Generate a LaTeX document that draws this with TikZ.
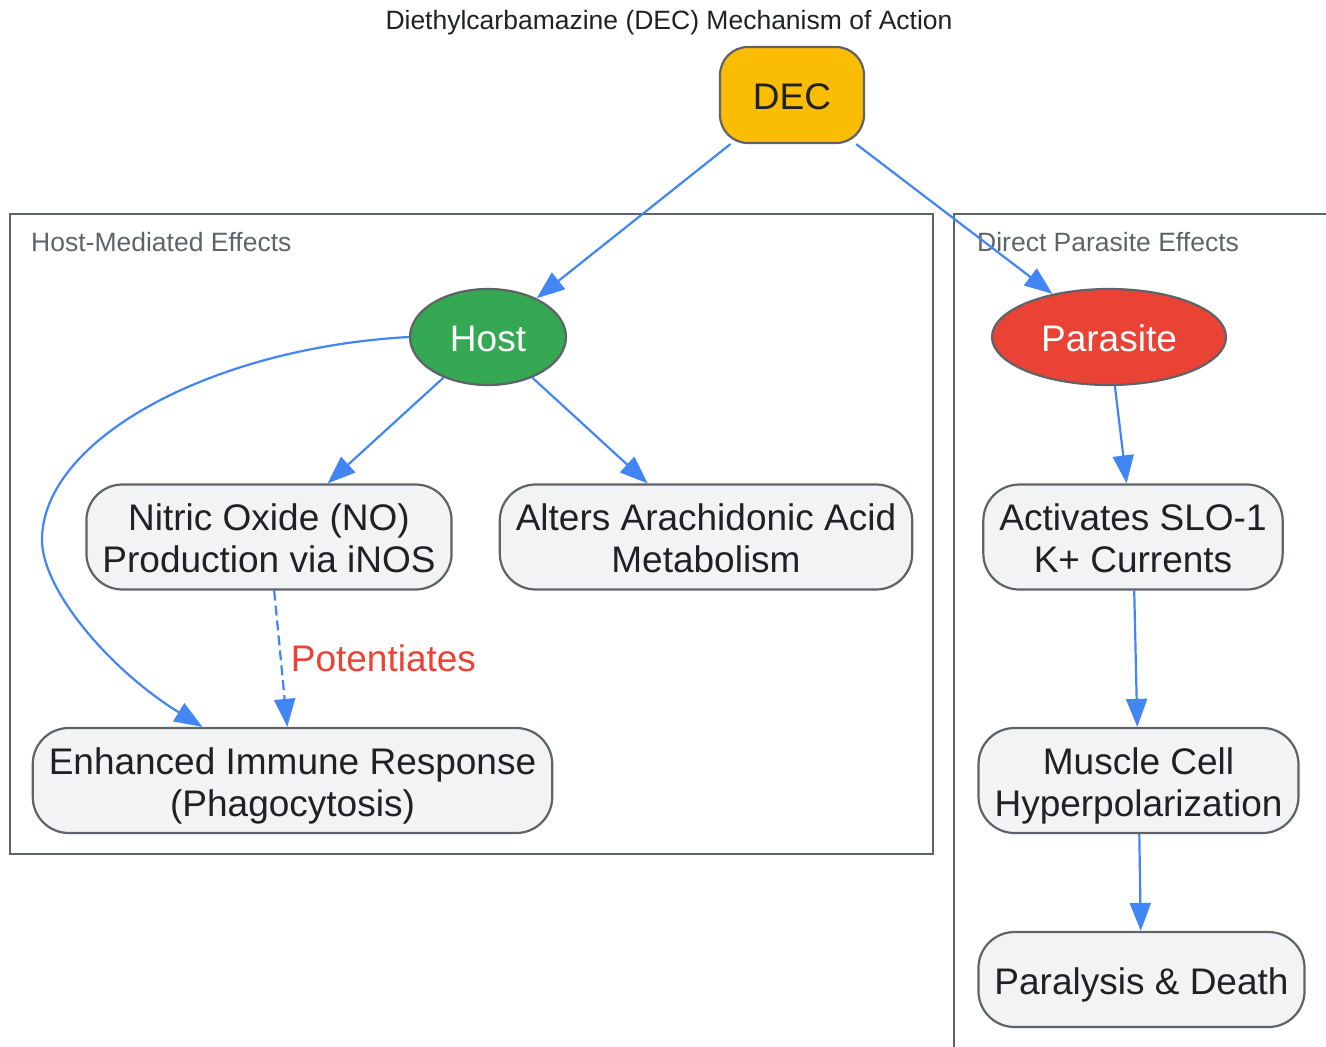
\documentclass[tikz,border=0pt]{standalone}
\usepackage{fontspec}
\setmainfont{Liberation Sans}
\usetikzlibrary{arrows.meta,shapes.geometric}
\definecolor{decyellow}{HTML}{FBBC04}
\definecolor{hostgreen}{HTML}{34A853}
\definecolor{parared}{HTML}{EA4335}
\definecolor{linkblue}{HTML}{4285F4}
\definecolor{edgegray}{HTML}{5F6368}
\definecolor{boxfill}{HTML}{F1F3F4}
\definecolor{inkdark}{HTML}{202124}
\newcommand{\bigtext}{\fontsize{37}{42}\selectfont}
\newcommand{\smalltext}{\fontsize{26.5}{30}\selectfont}
\begin{document}
\begin{tikzpicture}[x=1pt, y=-1pt,
    box/.style={draw=edgegray, line width=2.2pt, fill=boxfill, rounded corners=36pt,
        align=center, text=inkdark, inner xsep=16pt, inner ysep=6pt,
        minimum height=105pt, font=\bigtext, text height=71pt, text depth=0pt},
    oneline/.style={text height=29pt, text depth=0pt},
    oval/.style={ellipse, draw=edgegray, line width=2.2pt, text=white, inner sep=0pt,
        minimum height=96pt, font=\bigtext, oneline},
    flow/.style={draw=linkblue, line width=2.2pt, -{Triangle[length=28pt,width=21pt]}},
    grouplabel/.style={anchor=west, inner sep=0pt, text=edgegray, font=\smalltext}]
            \useasboundingbox (0,0) rectangle (1326,1047);
            % Title
            \node[text=inkdark, font=\smalltext] (title) at (669,23) {Diethylcarbamazine (DEC) Mechanism of Action};
            % Groups
            \draw[edgegray, line width=2.2pt] (10,214) rectangle (933,854);
            \draw[edgegray, line width=2.2pt] (954,214) rectangle (1345,1065);
            \node[grouplabel] (hostlabel) at (31,242) {Host-Mediated Effects};
            \node[grouplabel] (paralabel) at (977,242) {Direct Parasite Effects};
            % Nodes
            \node[box, oneline, fill=decyellow, rounded corners=28pt, minimum width=144pt, minimum height=96pt] (dec) at (792,95) {DEC};
            \node[oval, fill=hostgreen, minimum width=156pt] (host) at (488,337) {Host};
            \node[oval, fill=parared, minimum width=234pt] (parasite) at (1109,337) {Parasite};
            \node[box] (nitric) at (269,537) {Nitric Oxide (NO)\\Production via iNOS};
            \node[box] (arach) at (706,537) {Alters Arachidonic Acid\\Metabolism};
            \node[box] (immune) at (292.5,780.5) {Enhanced Immune Response\\(Phagocytosis)};
            \node[box] (slo) at (1133,537) {Activates SLO-1\\K+ Currents};
            \node[box] (muscle) at (1138.5,780.5) {Muscle Cell\\Hyperpolarization};
            \node[box, oneline, minimum height=95pt] (death) at (1141.5,979.5) {Paralysis \& Death};
            % Straight arrows
            \foreach \a/\b in {dec/host, dec/parasite, host/nitric, host/arach, parasite/slo, slo/muscle, muscle/death}
                \draw[flow] (\a) -- (\b);
            % Curved arrow round the left
            \draw[flow] (host.west) .. controls (210,348) and (42,440) .. (42,540)
                .. controls (42,590) and (110,670) .. ([xshift=-90pt]immune.north);
            % Dashed arrow + label
            \draw[flow, dash pattern=on 10pt off 5pt] (nitric) -- node[anchor=west, inner sep=0pt, xshift=9pt, text=parared, font=\bigtext] (potlabel) {Potentiates} (immune);
        \end{tikzpicture}
\end{document}
